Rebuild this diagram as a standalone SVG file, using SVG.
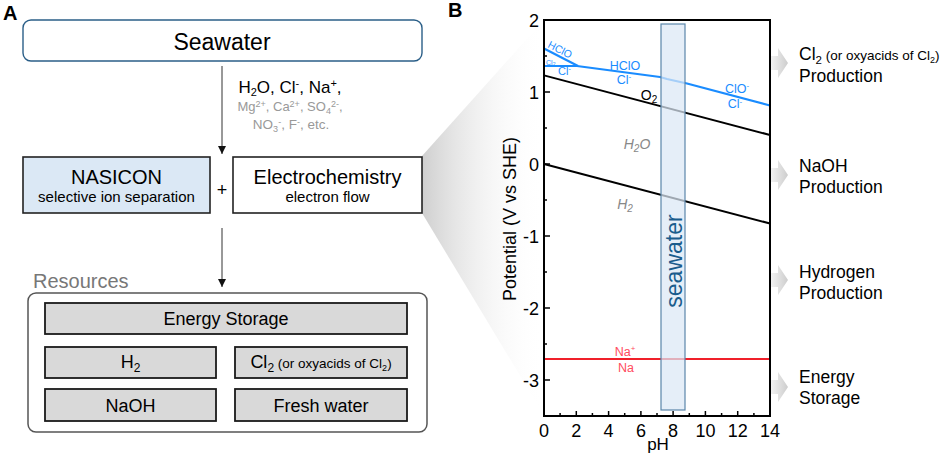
<svg xmlns="http://www.w3.org/2000/svg" width="942" height="456" viewBox="0 0 942 456">
<defs>
<style>
text{font-family:"Liberation Sans",Arial,sans-serif;}
.panel{font-weight:bold;font-size:20px;fill:#000;}
.box{fill:#fff;stroke:#222;stroke-width:1.6;}
.res{fill:#d9d9d9;stroke:#1a1a1a;stroke-width:1.8;}
.big{font-size:20px;text-anchor:middle;fill:#000;}
.small{font-size:15px;text-anchor:middle;fill:#000;}
.rtxt{font-size:18px;text-anchor:middle;fill:#000;}
.conn{stroke:#333;stroke-width:1;fill:none;}
.tick{stroke:#000;stroke-width:1.5;}
.tl{font-size:18px;fill:#000;}
.blue{font-size:12.5px;fill:#1a8cff;text-anchor:middle;}
.red{font-size:12.5px;fill:#ff4d5e;text-anchor:middle;}
.gi{font-size:14px;fill:#888;font-style:italic;text-anchor:middle;}
.side{font-size:17.5px;fill:#000;}
.sarr{fill:url(#ag);}
</style>
<linearGradient id="wg" gradientUnits="userSpaceOnUse" x1="422" y1="0" x2="544" y2="0">
<stop offset="0" stop-color="#cfcfcf" stop-opacity="1"/>
<stop offset="1" stop-color="#ffffff" stop-opacity="0"/>
</linearGradient>
<linearGradient id="ag" x1="0" y1="0" x2="1" y2="0">
<stop offset="0" stop-color="#f2f2f2"/>
<stop offset="1" stop-color="#cdcdcd"/>
</linearGradient>
<marker id="ah" markerWidth="8" markerHeight="8" refX="8" refY="4" orient="auto" markerUnits="userSpaceOnUse" viewBox="0 0 8 8">
<path d="M0,0 L8,4 L0,8 Z" fill="#111"/>
</marker>
</defs>
<rect width="942" height="456" fill="#fff"/>

<!-- projection wedge -->
<polygon id="wedge" points="422,156 542,22 542,412 422,213" fill="url(#wg)"/>

<text class="panel" x="3" y="20">A</text>
<text class="panel" x="448" y="17">B</text>

<g id="connectors">
<line class="conn" x1="222" y1="66" x2="222" y2="154" marker-end="url(#ah)"/>
<line class="conn" x1="222" y1="228" x2="222" y2="287" marker-end="url(#ah)"/>
</g>

<g id="seawater">
<rect x="23" y="20" width="399" height="41" rx="8" fill="#fff" stroke="#2b5f88" stroke-width="1.4"/>
<text x="222" y="50" style="font-size:23px;text-anchor:middle">Seawater</text>
</g>

<g id="ions">
<text x="290" y="93" style="font-size:17px;text-anchor:middle">H<tspan font-size="11" dy="3">2</tspan><tspan dy="-3">O, Cl</tspan><tspan font-size="11" dy="-6">-</tspan><tspan dy="6">, Na</tspan><tspan font-size="11" dy="-6">+</tspan><tspan dy="6">,</tspan></text>
<text x="290" y="111" style="font-size:13px;text-anchor:middle;fill:#999">Mg<tspan font-size="9" dy="-4">2+</tspan><tspan dy="4">, Ca</tspan><tspan font-size="9" dy="-4">2+</tspan><tspan dy="4">, SO</tspan><tspan font-size="9" dy="3">4</tspan><tspan font-size="9" dy="-7">2-</tspan><tspan dy="4">,</tspan></text>
<text x="291" y="129" style="font-size:13.5px;text-anchor:middle;fill:#999">NO<tspan font-size="9" dy="3">3</tspan><tspan font-size="9" dy="-7">-</tspan><tspan dy="4">, F</tspan><tspan font-size="9" dy="-4">-</tspan><tspan dy="4">, etc.</tspan></text>
</g>

<g id="nasicon">
<rect x="23" y="157" width="187" height="56" fill="#dbe8f5" stroke="#222" stroke-width="1.6"/>
<text class="big" x="116.5" y="184">NASICON</text>
<text class="small" x="116.5" y="202">selective ion separation</text>
</g>
<text x="222" y="196" style="font-size:18px;text-anchor:middle">+</text>
<g id="electrochemistry">
<rect class="box" x="233" y="157" width="189" height="56"/>
<text class="big" x="327.5" y="184">Electrochemistry</text>
<text class="small" x="327.5" y="202">electron flow</text>
</g>

<g id="resources">
<text x="33" y="288" style="font-size:20px;fill:#777">Resources</text>
<rect x="28" y="293" width="399" height="139" rx="8" fill="#fff" stroke="#555" stroke-width="1.5"/>
<g id="res-energy">
<rect class="res" x="45" y="303" width="362" height="31"/>
<text class="rtxt" x="226" y="325">Energy Storage</text>
</g>
<g id="res-h2">
<rect class="res" x="45" y="347" width="171" height="31"/>
<text class="rtxt" x="130.5" y="368">H<tspan font-size="12" dy="4">2</tspan></text>
</g>
<g id="res-cl2">
<rect class="res" x="235" y="347" width="172" height="31"/>
<text class="rtxt" x="321" y="368">Cl<tspan font-size="12" dy="4">2</tspan><tspan font-size="13.5" dy="-4"> (or oxyacids of Cl</tspan><tspan font-size="9" dy="3">2</tspan><tspan font-size="13.5" dy="-3">)</tspan></text>
</g>
<g id="res-naoh">
<rect class="res" x="45" y="389" width="171" height="32"/>
<text class="rtxt" x="130.5" y="412">NaOH</text>
</g>
<g id="res-fresh">
<rect class="res" x="235" y="389" width="172" height="32"/>
<text class="rtxt" x="321" y="412">Fresh water</text>
</g>
</g>

<!-- Plot B -->
<g id="plot">
<polyline points="544,75.4 770,135" fill="none" stroke="#000" stroke-width="2"/>
<polyline points="544,164 770,223.5" fill="none" stroke="#000" stroke-width="2"/>
<line x1="544" y1="359" x2="770" y2="359" stroke="#f0202a" stroke-width="2"/>
<polyline points="544,48.5 578,66" fill="none" stroke="#1a8cff" stroke-width="2.2"/>
<polyline points="544,66 577,66 660,77 667,79 687,83.5 770,105.5" fill="none" stroke="#1a8cff" stroke-width="2.2" stroke-linejoin="round"/>

<rect x="661" y="24" width="24" height="386" fill="#dbe8f5" fill-opacity="0.72" stroke="#5a86aa" stroke-width="1.2"/>
<text x="682" y="261" transform="rotate(-90 682 261)" style="font-size:23px;fill:#1a5c8c;text-anchor:middle">seawater</text>

<text x="547" y="47" transform="rotate(27 547 47)" style="font-size:10.5px;fill:#1a8cff">HClO</text>
<text x="546" y="65" style="font-size:7px;fill:#1a8cff">Cl<tspan font-size="5" dy="1">2</tspan></text>
<text x="558" y="75" style="font-size:11px;fill:#1a8cff">Cl<tspan font-size="7" dy="-4">-</tspan></text>
<text class="blue" x="625" y="70">HClO</text>
<text class="blue" x="624" y="84">Cl<tspan font-size="8" dy="-5">-</tspan></text>
<text class="blue" x="737" y="93">ClO<tspan font-size="8" dy="-5">-</tspan></text>
<text class="blue" x="735" y="108">Cl<tspan font-size="8" dy="-4">-</tspan></text>
<text x="649" y="100" style="font-size:14px;text-anchor:middle;fill:#000">O<tspan font-size="10" dy="3">2</tspan></text>
<text class="gi" x="637" y="149">H<tspan font-size="10" dy="3">2</tspan><tspan dy="-3">O</tspan></text>
<text class="gi" x="625" y="209">H<tspan font-size="10" dy="3">2</tspan></text>
<text class="red" x="625" y="356">Na<tspan font-size="8" dy="-5">+</tspan></text>
<text class="red" x="626" y="372">Na</text>

<rect x="544" y="20" width="226" height="396" fill="none" stroke="#000" stroke-width="2"/>

<g class="tick">
<line x1="544" y1="20" x2="550" y2="20"/>
<line x1="544" y1="92" x2="550" y2="92"/>
<line x1="544" y1="164" x2="550" y2="164"/>
<line x1="544" y1="236" x2="550" y2="236"/>
<line x1="544" y1="308" x2="550" y2="308"/>
<line x1="544" y1="380" x2="550" y2="380"/>
<line x1="544" y1="56" x2="547" y2="56"/>
<line x1="544" y1="128" x2="547" y2="128"/>
<line x1="544" y1="200" x2="547" y2="200"/>
<line x1="544" y1="272" x2="547" y2="272"/>
<line x1="544" y1="344" x2="547" y2="344"/>
<line x1="576.3" y1="416" x2="576.3" y2="411"/>
<line x1="608.6" y1="416" x2="608.6" y2="411"/>
<line x1="640.9" y1="416" x2="640.9" y2="411"/>
<line x1="673.1" y1="416" x2="673.1" y2="411"/>
<line x1="705.4" y1="416" x2="705.4" y2="411"/>
<line x1="737.7" y1="416" x2="737.7" y2="411"/>
<line x1="560.1" y1="416" x2="560.1" y2="413"/>
<line x1="592.4" y1="416" x2="592.4" y2="413"/>
<line x1="624.7" y1="416" x2="624.7" y2="413"/>
<line x1="657" y1="416" x2="657" y2="413"/>
<line x1="689.3" y1="416" x2="689.3" y2="413"/>
<line x1="721.6" y1="416" x2="721.6" y2="413"/>
<line x1="753.9" y1="416" x2="753.9" y2="413"/>
</g>
<g class="tl" style="text-anchor:end">
<text x="539" y="27">2</text>
<text x="539" y="99">1</text>
<text x="539" y="171">0</text>
<text x="539" y="243">-1</text>
<text x="539" y="315">-2</text>
<text x="539" y="387">-3</text>
</g>
<g class="tl" style="text-anchor:middle">
<text x="544" y="437">0</text>
<text x="576.3" y="437">2</text>
<text x="608.6" y="437">4</text>
<text x="640.9" y="437">6</text>
<text x="673.1" y="437">8</text>
<text x="705.4" y="437">10</text>
<text x="737.7" y="437">12</text>
<text x="770" y="437">14</text>
</g>
<text x="658" y="450" style="font-size:17px;text-anchor:middle">pH</text>
<text x="516" y="219" transform="rotate(-90 516 219)" style="font-size:18px;text-anchor:middle">Potential (V vs SHE)</text>
</g>

<g id="out-cl2">
<path class="sarr" d="M771,56 L778,56 L778,48 L788,63 L778,78 L778,70 L771,70 Z"/>
<text class="side" x="799" y="60">Cl<tspan font-size="11.5" dy="4">2</tspan><tspan font-size="13.5" dy="-4"> (or oxyacids of Cl</tspan><tspan font-size="9" dy="3">2</tspan><tspan font-size="13.5" dy="-3">)</tspan></text>
<text class="side" x="799" y="81.5">Production</text>
</g>
<g id="out-naoh">
<path class="sarr" d="M771,168 L778,168 L778,160 L788,175 L778,190 L778,182 L771,182 Z"/>
<text class="side" x="799" y="172">NaOH</text>
<text class="side" x="799" y="193">Production</text>
</g>
<g id="out-h2">
<path class="sarr" d="M771,273 L778,273 L778,265 L788,280 L778,295 L778,287 L771,287 Z"/>
<text class="side" x="799" y="278">Hydrogen</text>
<text class="side" x="799" y="299">Production</text>
</g>
<g id="out-energy">
<path class="sarr" d="M771,380 L778,380 L778,372 L788,387 L778,402 L778,394 L771,394 Z"/>
<text class="side" x="799" y="383">Energy</text>
<text class="side" x="799" y="404">Storage</text>
</g>
</svg>
